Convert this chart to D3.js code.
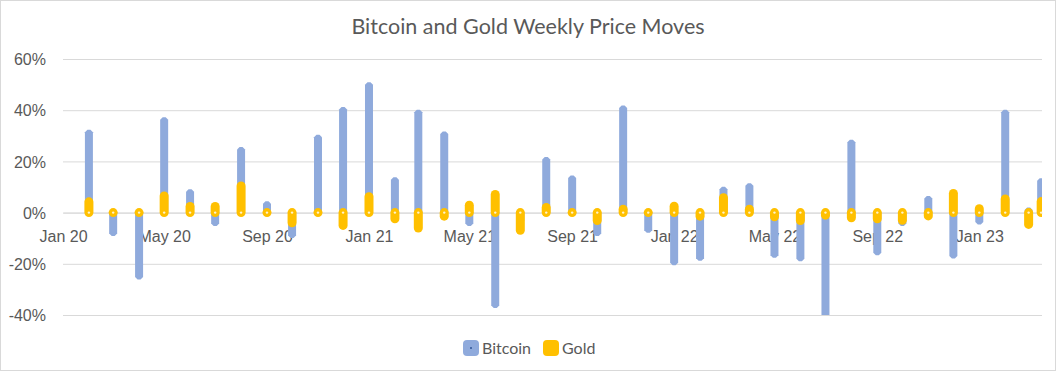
<!DOCTYPE html>
<html>
<head>
  <title>Bitcoin and Gold Weekly Price Moves</title>
  <meta charset="utf-8">
  <style>
    body{
      margin: 0;
      padding: 0;
      background-color: #fff;
    }
    .chart{
      display: block;
      font-family: Lato, "Open Sans", sans-serif;
    }
    .grid line{
      stroke: #d9d9d9;
      stroke-width: 1;
    }
    .axis text{
      fill: #595959;
      font-size: 16px;
    }
  </style>
</head>
<body>
  <svg class="chart"></svg>

<script src="https://d3js.org/d3.v7.min.js"></script>
<script>

// monthly points (first of month), last one is the partial month
var dates = ["2020-02-01","2020-03-01","2020-04-01","2020-05-01","2020-06-01","2020-07-01",
  "2020-08-01","2020-09-01","2020-10-01","2020-11-01","2020-12-01","2021-01-01",
  "2021-02-01","2021-03-01","2021-04-01","2021-05-01","2021-06-01","2021-07-01",
  "2021-08-01","2021-09-01","2021-10-01","2021-11-01","2021-12-01","2022-01-01",
  "2022-02-01","2022-03-01","2022-04-01","2022-05-01","2022-06-01","2022-07-01",
  "2022-08-01","2022-09-01","2022-10-01","2022-11-01","2022-12-01","2023-01-01",
  "2023-02-01","2023-03-01","2023-03-16"];

var bitcoin = [31.4, -8.2, -25.2, 36.3, 8.1, -4.3, 24.6, 3.5, -8.9, 29.4, 40.3, 49.9,
  12.8, 39.2, 30.7, -4.3, -36.3, -3, 20.7, 13.5, -8.2, 40.9, -6.9, -19.6,
  -17.8, 9.1, 10.5, -16.7, -18, -42, 27.5, -15.7, -4.3, 5.5, -17, -3.7,
  39.2, 1, 12.4];

var gold = [4.2, 0, 0, 6.5, 2.4, 2.4, 10.4, 0, -4, 0, -5, 6.2,
  -2.4, -6, -1.4, 2.9, 7.1, -6.9, 2, 0, -3.1, 1.3, 0, 2.5,
  -1.4, 5.8, 1.3, -1.6, -3.1, -1, -2, -2.4, -3, -1.3, 7.5, 1.5,
  5.3, -4.6, 4.3];

var yTicks = [-40, -20, 0, 20, 40, 60];
var xTicks = ["2020-01-01","2020-05-01","2020-09-01","2021-01-01","2021-05-01","2021-09-01",
  "2022-01-01","2022-05-01","2022-09-01","2023-01-01"];

var W = 1056, H = 371;
var margin = {top: 59, right: 14, bottom: 56, left: 63},
    width = W - margin.left - margin.right,
    height = H - margin.top - margin.bottom;

var parse = d3.utcParse("%Y-%m-%d");

var x = d3.scaleUtc()
    .domain([parse("2020-01-01"), parse("2023-03-17")])
    .range([0, width]);
var y = d3.scaleLinear()
    .domain([-40, 60])
    .range([height, 0]);

var svg = d3.select(".chart")
    .attr("width", W)
    .attr("height", H);

// outer border
svg.append("rect")
    .attr("x", 0.5).attr("y", 0.5)
    .attr("width", W - 1).attr("height", H - 1)
    .attr("fill", "#fff")
    .attr("stroke", "#d9d9d9");

svg.append("text")
    .attr("x", W / 2)
    .attr("y", 34)
    .attr("text-anchor", "middle")
    .attr("fill", "#595959")
    .style("font-size", "21.5px")
    .text("Bitcoin and Gold Weekly Price Moves");

var g = svg.append("g")
    .attr("transform", "translate(" + margin.left + "," + margin.top + ")");

g.append("clipPath").attr("id", "plot")
  .append("rect")
    .attr("x", 0).attr("y", 0)
    .attr("width", width).attr("height", height);

// y axis + gridlines
var yAxis = g.append("g")
    .attr("class", "axis grid")
    .call(d3.axisLeft(y).tickValues(yTicks).tickSize(-width).tickPadding(17)
      .tickFormat(function(d) { return d + "%"; }));
yAxis.select(".domain").remove();
yAxis.selectAll("text").attr("dy", "0.35em");

// x axis labels sit under the 0% line
var xAxis = g.append("g")
    .attr("class", "axis")
    .attr("transform", "translate(0," + y(0) + ")")
    .call(d3.axisBottom(x).tickValues(xTicks.map(parse)).tickSize(0).tickPadding(18)
      .tickFormat(d3.utcFormat("%b %y")));
xAxis.select(".domain").attr("stroke", "#d9d9d9");

var rows = dates.map(function(d, i) {
  return {date: parse(d), btc: bitcoin[i], gold: gold[i]};
});

var plot = g.append("g").attr("clip-path", "url(#plot)");

// bitcoin: thick bar with pointed ends
function btcPath(d) {
  var cx = x(d.date), y0 = y(0), y1 = y(d.btc);
  var s = y1 >= y0 ? 1 : -1, hw = 4, c = 2.5, t = 1.5;
  return "M" + (cx - hw) + "," + y0 +
    "L" + (cx - hw) + "," + y1 +
    "L" + (cx - t) + "," + (y1 + s * c) +
    "L" + (cx + t) + "," + (y1 + s * c) +
    "L" + (cx + hw) + "," + y1 +
    "L" + (cx + hw) + "," + y0 +
    "L" + (cx + t) + "," + (y0 - s * c) +
    "L" + (cx - t) + "," + (y0 - s * c) + "Z";
}

plot.selectAll(".btc")
    .data(rows)
    .enter().append("path")
    .attr("class", "btc")
    .attr("d", btcPath)
    .attr("fill", "#8faadc");

plot.selectAll(".gold")
    .data(rows)
    .enter().append("line")
    .attr("class", "gold")
    .attr("x1", function(d) { return x(d.date); })
    .attr("x2", function(d) { return x(d.date); })
    .attr("y1", y(0))
    .attr("y2", function(d) { return y(d.gold); })
    .attr("stroke", "#ffc000")
    .attr("stroke-width", 9)
    .attr("stroke-linecap", "round");

// small marker at zero
plot.selectAll(".mark")
    .data(rows)
    .enter().append("circle")
    .attr("class", "mark")
    .attr("cx", function(d) { return x(d.date); })
    .attr("cy", y(0))
    .attr("r", 1.2)
    .attr("fill", "#fff")
    .attr("opacity", 0.8);

// legend
var legend = svg.append("g").attr("transform", "translate(0,348)");
var items = [{name: "Bitcoin", color: "#8faadc", x: 463}, {name: "Gold", color: "#ffc000", x: 543}];
var li = legend.selectAll("g")
    .data(items)
    .enter().append("g")
    .attr("transform", function(d) { return "translate(" + d.x + ",0)"; });
li.append("rect")
    .attr("x", 0).attr("y", -8)
    .attr("width", 16).attr("height", 16)
    .attr("rx", 4)
    .attr("fill", function(d) { return d.color; });
li.append("text")
    .attr("x", 19)
    .attr("dy", "0.35em")
    .attr("fill", "#595959")
    .style("font-size", "16px")
    .text(function(d) { return d.name; });
legend.append("circle")
    .attr("cx", 471).attr("cy", 0).attr("r", 1)
    .attr("fill", "#2f5597");

</script>
</body>
</html>
